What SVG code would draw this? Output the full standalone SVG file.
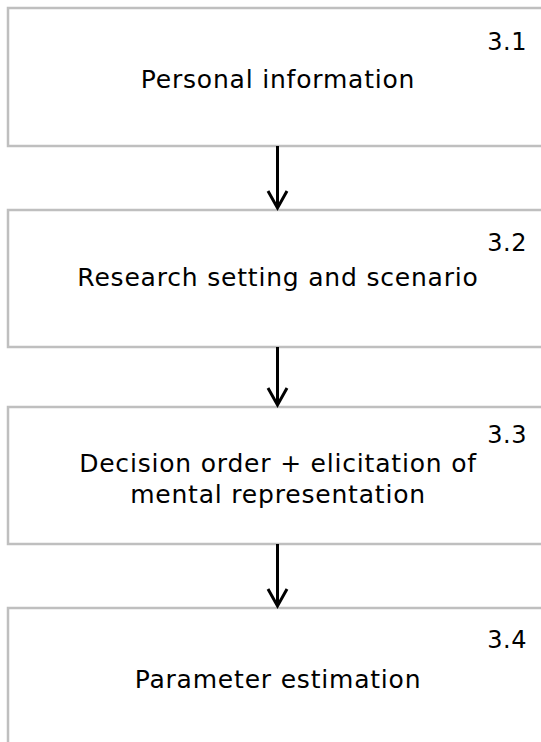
<svg xmlns="http://www.w3.org/2000/svg" width="541" height="742" viewBox="0 0 541 742">
<style>
.box{fill:#fff;stroke:#BFBFBF;stroke-width:2.5}
.t{font-family:"DejaVu Sans",Verdana,sans-serif;font-size:25px;letter-spacing:0.8px;fill:#000;text-anchor:middle}
.n{font-family:"DejaVu Sans",Verdana,sans-serif;font-size:24px;letter-spacing:0.5px;fill:#000;text-anchor:end}
.c{stroke:#000;stroke-width:3;fill:none}
</style>
<rect width="541" height="742" fill="#fff"/>
<g id="n1"><rect class="box" x="8" y="8" width="600" height="138"/><text class="n" x="527" y="50">3.1</text><text class="t" x="278" y="88">Personal information</text></g>
<g id="n2"><rect class="box" x="8" y="210" width="600" height="137"/><text class="n" x="527" y="251">3.2</text><text class="t" x="278" y="286">Research setting and scenario</text></g>
<g id="n3"><rect class="box" x="8" y="407" width="600" height="137"/><text class="n" x="527" y="443">3.3</text><text class="t" x="278" y="472">Decision order + elicitation of</text><text class="t" x="278" y="503">mental representation</text></g>
<g id="n4"><rect class="box" x="8" y="608" width="600" height="200"/><text class="n" x="527" y="648">3.4</text><text class="t" x="278" y="688">Parameter estimation</text></g>
<g id="connectors">
<path class="c" d="M277.5 146V208M268 191l9.5 17 9.5-17"/>
<path class="c" d="M277.5 347V405M268 388l9.5 17 9.5-17"/>
<path class="c" d="M277.5 544V606M268 589l9.5 17 9.5-17"/>
</g>
</svg>
